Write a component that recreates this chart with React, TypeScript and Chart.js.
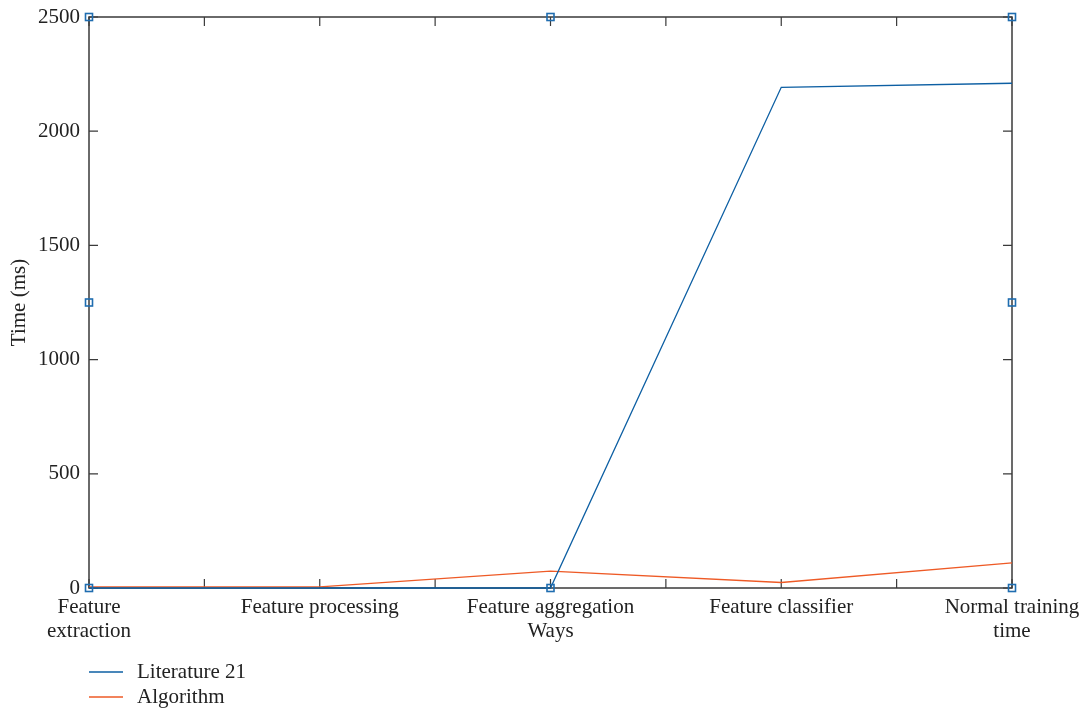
import React, { useEffect, useRef } from "react";
import { Chart, registerables } from "chart.js";

Chart.register(...registerables);

const categories: (string | string[])[] = [
  ["Feature", "extraction"],
  "Feature processing",
  ["Feature aggregation", "Ways"],
  "Feature classifier",
  ["Normal training", "time"],
];
const literature21 = [0, 0, 0, 2192, 2210];
const algorithm = [5, 5, 74, 24, 110];
const yTicks = [0, 500, 1000, 1500, 2000, 2500];
const seriesNames = ["Literature 21", "Algorithm"];
const seriesColors = ["#0d5fa3", "#ee5a26"];

const FONT = "'Liberation Serif', 'Times New Roman', serif";
const W = 1084;
const H = 709;

const framePlugin = {
  id: "framePlugin",
  beforeDatasetsDraw(chart: any) {
    const { ctx, chartArea: a, scales } = chart;
    const x = scales.x;
    const y = scales.y;
    ctx.save();
    ctx.strokeStyle = "#3a3a3a";
    ctx.lineWidth = 1.5;
    ctx.strokeRect(a.left, a.top, a.right - a.left, a.bottom - a.top);
    ctx.lineWidth = 1.2;
    const tl = 9;
    const n = categories.length;
    const xs: number[] = [];
    for (let i = 0; i < n; i++) {
      xs.push(x.getPixelForTick(i));
      if (i < n - 1) xs.push((x.getPixelForTick(i) + x.getPixelForTick(i + 1)) / 2);
    }
    ctx.beginPath();
    xs.forEach((px) => {
      ctx.moveTo(px, a.bottom);
      ctx.lineTo(px, a.bottom - tl);
      ctx.moveTo(px, a.top);
      ctx.lineTo(px, a.top + tl);
    });
    yTicks.forEach((v) => {
      const py = y.getPixelForValue(v);
      ctx.moveTo(a.left, py);
      ctx.lineTo(a.left + tl, py);
      ctx.moveTo(a.right, py);
      ctx.lineTo(a.right - tl, py);
    });
    ctx.stroke();
    ctx.restore();
  },
  afterDraw(chart: any) {
    const { ctx, chartArea: a } = chart;
    ctx.save();
    ctx.strokeStyle = "#1f6db0";
    ctx.lineWidth = 1.6;
    const s = 7;
    const midX = (a.left + a.right) / 2;
    const midY = (a.top + a.bottom) / 2;
    const pts = [
      [a.left, a.top], [midX, a.top], [a.right, a.top],
      [a.left, midY], [a.right, midY],
      [a.left, a.bottom], [midX, a.bottom], [a.right, a.bottom],
    ];
    pts.forEach(([px, py]) => ctx.strokeRect(px - s / 2, py - s / 2, s, s));
    ctx.font = `21px ${FONT}`;
    ctx.textBaseline = "middle";
    ctx.textAlign = "left";
    seriesNames.forEach((name, i) => {
      const ly = a.bottom + 84 + i * 25;
      ctx.strokeStyle = seriesColors[i];
      ctx.lineWidth = 1.3;
      ctx.beginPath();
      ctx.moveTo(a.left, ly);
      ctx.lineTo(a.left + 34, ly);
      ctx.stroke();
      ctx.fillStyle = "#222";
      ctx.fillText(name, a.left + 48, ly);
    });
    ctx.restore();
  },
};

export default function App() {
  const ref = useRef<HTMLCanvasElement>(null);
  useEffect(() => {
    document.body.style.margin = "0";
    const chart = new Chart(ref.current!, {
      type: "line",
      data: {
        labels: categories,
        datasets: [
          {
            label: seriesNames[0],
            data: literature21,
            borderColor: seriesColors[0],
            borderWidth: 1.3,
            pointRadius: 0,
            tension: 0,
            clip: false as any,
          },
          {
            label: seriesNames[1],
            data: algorithm,
            borderColor: seriesColors[1],
            borderWidth: 1.3,
            pointRadius: 0,
            tension: 0,
            clip: false as any,
          },
        ],
      },
      options: {
        responsive: false,
        animation: false,
        devicePixelRatio: 1,
        layout: { padding: { left: 0, right: 72, top: 17, bottom: 0 } },
        plugins: { legend: { display: false }, tooltip: { enabled: false } },
        scales: {
          x: {
            offset: false,
            grid: { display: false, drawTicks: false },
            border: { display: false },
            ticks: {
              autoSkip: false,
              maxRotation: 0,
              padding: 7,
              color: "#222",
              font: { family: FONT, size: 21, lineHeight: 1.15 },
            },
            afterFit: (s: any) => {
              s.height = 121;
              s.paddingLeft = 0;
              s.paddingRight = 0;
            },
          },
          y: {
            min: 0,
            max: 2500,
            grid: { display: false, drawTicks: false },
            border: { display: false },
            afterBuildTicks: (s: any) => {
              s.ticks = yTicks.map((v) => ({ value: v }));
            },
            ticks: {
              padding: 9,
              color: "#222",
              font: { family: FONT, size: 21 },
              callback: (v: any) => String(v),
            },
            title: {
              display: true,
              text: "Time (ms)",
              color: "#222",
              font: { family: FONT, size: 21 },
              padding: { top: 7, bottom: 0 },
            },
            afterFit: (s: any) => {
              s.width = 89;
              s.paddingTop = 0;
              s.paddingBottom = 0;
            },
          },
        },
      },
      plugins: [framePlugin],
    });
    return () => chart.destroy();
  }, []);
  return (
    <div style={{ width: W, height: H, background: "#fff" }}>
      <canvas ref={ref} width={W} height={H} style={{ display: "block" }} />
    </div>
  );
}
